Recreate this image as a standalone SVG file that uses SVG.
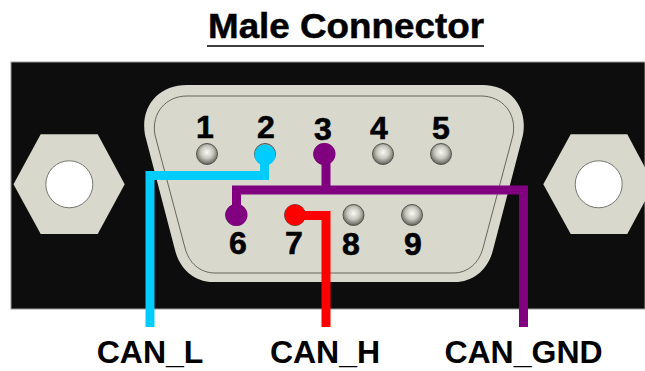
<svg xmlns="http://www.w3.org/2000/svg" width="645" height="371" viewBox="0 0 645 371">
<defs>
<radialGradient id="pin" cx="0.5" cy="0.42" r="0.58"><stop offset="0" stop-color="#fbfbf6"/><stop offset="0.5" stop-color="#c8c8be"/><stop offset="1" stop-color="#5f5f58"/></radialGradient>
</defs>
<style>
text{font-family:"Liberation Sans",Arial,sans-serif;font-weight:700;fill:#000}
.num{font-size:32px;text-anchor:middle;stroke:#000;stroke-width:0.6}
.lab{font-size:32px;text-anchor:middle}
.hex{fill:#d8d8cc}
.hole{fill:#fff;stroke:#77776f;stroke-width:1}
.pin{fill:url(#pin);stroke:#55554f;stroke-width:1}
.wire{fill:none;stroke-width:9}
</style>
<rect id="panel" x="11" y="62" width="634" height="247" fill="#0d0d0d" stroke="#9a9a96" stroke-width="1"/>
<g id="nut-left"><polygon class="hex" points="13.5,184.3 40.7,134.3 97.7,134.3 124.7,184.3 97.7,234 40.7,234"/><circle class="hole" cx="69.3" cy="184.3" r="23.5"/></g>
<g id="nut-right"><polygon class="hex" points="543.3,184.3 570.7,134.3 627.3,134.3 654,184.3 627.3,234 570.7,234"/><circle class="hole" cx="598.7" cy="184.3" r="23.5"/></g>
<g id="shell">
<path d="M187 85H483C510 85 528 107 523 135L493 250C488 270 473 282 455 282H213C195 282 180 270 175 250L145 135C140 107 158 85 187 85Z" fill="#d8d8cc"/>
<path d="M187 96H481C502 96 517 113 513 135L483 248C479 263 468 273 453 273H215C200 273 189 263 185 248L155 135C151 113 166 96 187 96Z" fill="none" stroke="#66665f" stroke-width="1"/>
</g>
<g id="pin1"><text class="num" x="205" y="138">1</text><circle class="pin" cx="207" cy="154" r="10.5"/></g>
<g id="pin2"><text class="num" x="266" y="138">2</text><circle class="pin" cx="265" cy="154" r="10.5"/></g>
<g id="pin3"><text class="num" x="323" y="139.500">3</text><circle class="pin" cx="324" cy="154" r="10.5"/></g>
<g id="pin4"><text class="num" x="379" y="138.500">4</text><circle class="pin" cx="383" cy="154" r="10.5"/></g>
<g id="pin5"><text class="num" x="441" y="139">5</text><circle class="pin" cx="441" cy="154" r="10.5"/></g>
<g id="pin6"><text class="num" x="238" y="253.500">6</text><circle class="pin" cx="236" cy="215" r="10.5"/></g>
<g id="pin7"><text class="num" x="294" y="254">7</text><circle class="pin" cx="295" cy="215" r="10.5"/></g>
<g id="pin8"><text class="num" x="351" y="255">8</text><circle class="pin" cx="353.5" cy="215" r="10.5"/></g>
<g id="pin9"><text class="num" x="413" y="255">9</text><circle class="pin" cx="412" cy="215" r="10.5"/></g>
<g id="connectors">
<path class="wire" stroke="#00ccff" d="M150 327V175.500H264.500V155"/>
<circle cx="265" cy="155" r="10.500" fill="#00ccff"/>
<path class="wire" stroke="#800080" d="M236.500 215V190H523.500V327M326 154V190"/>
<circle cx="324.500" cy="154" r="11" fill="#800080"/>
<circle cx="236.500" cy="215" r="11" fill="#800080"/>
<path class="wire" stroke="#ff0000" d="M295 215.500H326V327"/>
<circle cx="295" cy="215" r="10.500" fill="#ff0000"/>
</g>
<g id="title"><text x="208" y="38" font-size="35" textLength="276" lengthAdjust="spacingAndGlyphs" stroke="#000" stroke-width="0.5">Male Connector</text><line x1="207" y1="46" x2="484" y2="46" stroke="#000" stroke-width="1.500"/></g>
<text id="can-l" class="lab" x="150" y="363">CAN_L</text>
<text id="can-h" class="lab" x="325" y="363">CAN_H</text>
<text id="can-gnd" class="lab" x="523.500" y="363">CAN_GND</text>
</svg>
